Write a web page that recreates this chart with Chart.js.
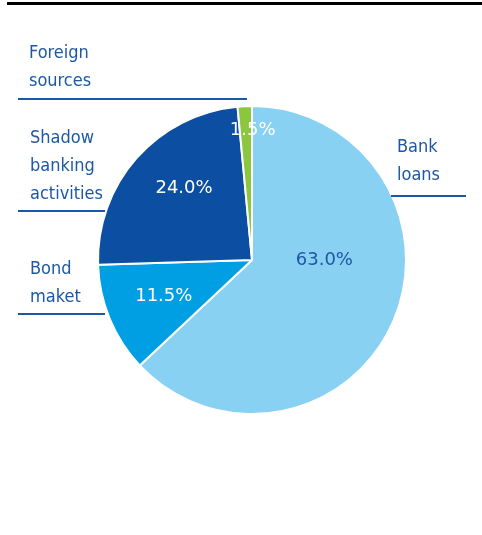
<!DOCTYPE html>
<html>
<head>
<meta charset="utf-8">
<script src="https://cdn.jsdelivr.net/npm/chart.js@4.4.0/dist/chart.umd.min.js"></script>
<style>
    html, body { margin: 0; padding: 0; background: #fff; }
    #wrap { position: relative; width: 482px; height: 535px; }
    #topRule { position: absolute; left: 7px; right: 0; top: 2px; height: 3px; background: #000; }
    canvas { position: absolute; left: 0; top: 0; }
</style>
</head>
<body>
<div id="wrap">
    <div id="topRule"></div>
    <canvas id="fundingChart" width="482" height="535"></canvas>
</div>
<script>
// Chart data
const categories = ['Bank loans', 'Bond maket', 'Shadow banking activities', 'Foreign sources'];
const shares = [63.0, 11.5, 24.0, 1.5];

// Colours
const sliceColors = ['#89d1f3', '#009fe3', '#0b4ea2', '#8cc63f'];
const textBlue = '#1d58a6';
const valueColors = [textBlue, '#ffffff', '#ffffff', '#ffffff'];

// Where the value labels sit inside each slice (fraction of radius, angle shift in degrees)
const valuePlacement = [
    { r: 0.47, shift: -23 },
    { r: 0.62, shift: 0 },
    { r: 0.64, shift: 5 },
    { r: 0.84, shift: 3 }
];

// Callout labels outside the pie: text x, first baseline, underline from/to and y
const callouts = [
    { x: 397, y: 152, x1: 391, x2: 466, ly: 196 },
    { x: 30, y: 274, x1: 18, x2: 105, ly: 314 },
    { x: 30, y: 143, x1: 18, x2: 105, ly: 211 },
    { x: 29, y: 58, x1: 18, x2: 247, ly: 99 }
];
const lineGap = 28;

const labelPlugin = {
    id: 'pieLabels',
    afterDatasetsDraw(chart) {
        const ctx = chart.ctx;
        const meta = chart.getDatasetMeta(0);
        ctx.save();

        // values inside slices
        ctx.font = '18px "DejaVu Sans"';
        ctx.textAlign = 'center';
        ctx.textBaseline = 'middle';
        meta.data.forEach((arc, i) => {
            const p = arc.getProps(['x', 'y', 'startAngle', 'endAngle', 'outerRadius'], true);
            const place = valuePlacement[i];
            const mid = (p.startAngle + p.endAngle) / 2 + place.shift * Math.PI / 180;
            const r = p.outerRadius * place.r;
            ctx.fillStyle = valueColors[i];
            ctx.fillText(shares[i].toFixed(1) + '%', p.x + Math.cos(mid) * r, p.y + Math.sin(mid) * r);
        });

        // category callouts
        ctx.font = '18px "DejaVu Sans Condensed"';
        ctx.textAlign = 'left';
        ctx.textBaseline = 'alphabetic';
        ctx.fillStyle = textBlue;
        ctx.strokeStyle = textBlue;
        ctx.lineWidth = 2;
        categories.forEach((name, i) => {
            const c = callouts[i];
            name.split(' ').forEach((word, k) => {
                ctx.fillText(word, c.x, c.y + k * lineGap);
            });
            ctx.beginPath();
            ctx.moveTo(c.x1, c.ly);
            ctx.lineTo(c.x2, c.ly);
            ctx.stroke();
        });
        ctx.restore();
    }
};

const ctx = document.getElementById('fundingChart').getContext('2d');
new Chart(ctx, {
    type: 'pie',
    data: {
        labels: categories,
        datasets: [{
            data: shares,
            backgroundColor: sliceColors,
            borderColor: '#ffffff',
            borderWidth: 2,
            hoverOffset: 0
        }]
    },
    options: {
        responsive: false,
        animation: false,
        events: [],
        layout: {
            padding: { left: 97, right: 75, top: 105, bottom: 120 }
        },
        plugins: {
            legend: { display: false },
            tooltip: { enabled: false }
        }
    },
    plugins: [labelPlugin]
});
</script>
</body>
</html>
